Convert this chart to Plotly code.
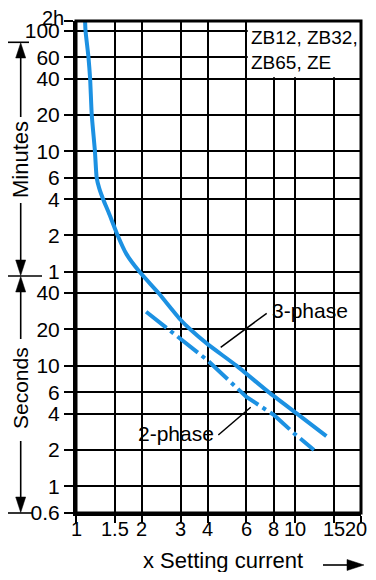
import math
import plotly.graph_objects as go

# ---------------- data ----------------
x_tick_vals = [1, 1.5, 2, 3, 4, 6, 8, 10, 15, 20]
x_tick_text = ["1", "1.5", "2", "3", "4", "6", "8", "10", "15", "20"]

# y values in seconds
y_tick_vals = [0.6, 1, 2, 4, 6, 10, 20, 40, 60, 120, 240, 360, 600, 1200, 2400, 3600, 6000, 7200]
y_tick_text = ["0.6", "1", "2", "4", "6", "10", "20", "40",
               "1", "2", "4", "6", "10", "20", "40", "60", "100", ""]
top_label = "2h"

three_phase_x = [1.10, 1.105, 1.14, 1.16, 1.18, 1.22, 1.243, 1.277, 1.33, 1.42, 1.55,
                 1.70, 1.95, 2.38, 3.0, 3.32, 4.0, 5.4, 7.6, 10.2, 13.9]
three_phase_t = [7200, 6000, 3600, 2400, 1200, 600, 360, 295, 240, 180, 120,
                 84, 60, 40, 24, 20, 15, 10, 6, 4, 2.6]

two_phase_x = [2.09, 3, 4, 6, 8, 10, 12.2]
two_phase_t = [28, 16.5, 11, 5.5, 3.9, 2.7, 2.0]

BLUE = "rgb(28,145,226)"
FONT = "Liberation Sans, Arial, sans-serif"

# the page keeps an 8px body margin on every side; reference plot area in page pixels
OFF = 8
L, R, T, B = 76, 361, 21, 513
W, H = R - L, B - T
FIG_W, FIG_H = 376 - 2 * OFF, 580 - 2 * OFF


def PX(x):
    return (x - L) / W


def PY(y):
    return (B - y) / H


fig = go.Figure()
fig.add_trace(go.Scatter(x=three_phase_x, y=three_phase_t, mode="lines",
                         line=dict(color=BLUE, width=4, shape="spline", smoothing=0.5),
                         hoverinfo="skip", showlegend=False))
fig.add_trace(go.Scatter(x=two_phase_x, y=two_phase_t, mode="lines",
                         line=dict(color=BLUE, width=4, dash="26px,5px,4px,5px"),
                         hoverinfo="skip", showlegend=False))

shapes = []
# white box behind type text (covers gridlines)
shapes.append(dict(type="rect", xref="x", yref="y", x0=6.08, x1=20, y0=2460, y1=7200,
                   fillcolor="white", line=dict(width=0), layer="above"))
# plot border
shapes.append(dict(type="rect", xref="paper", yref="paper", x0=0, x1=1, y0=0, y1=1,
                   line=dict(color="black", width=3), layer="above"))


def pline(x0, y0, x1, y1, w=1.6):
    shapes.append(dict(type="line", xref="paper", yref="paper",
                       x0=PX(x0), y0=PY(y0), x1=PX(x1), y1=PY(y1),
                       line=dict(color="black", width=w), layer="above"))


def tri(points):
    p = "M" + " L".join(f"{PX(a):.5f},{PY(b):.5f}" for a, b in points) + " Z"
    shapes.append(dict(type="path", xref="paper", yref="paper", path=p,
                       fillcolor="black", line=dict(color="black", width=0.5), layer="above"))


vx = 20.7
# bars
pline(8, 42.3, 29, 42.3)
pline(8, 276, 42, 276)
pline(8, 513, 32, 513)
# minutes arrow
tri([(vx, 42.8), (vx - 5, 58), (vx + 5, 58)])
pline(vx, 58, vx, 117)
pline(vx, 203, vx, 261)
tri([(vx, 275.5), (vx - 5, 260), (vx + 5, 260)])
# seconds arrow
tri([(vx, 276.5), (vx - 5, 292), (vx + 5, 292)])
pline(vx, 292, vx, 339)
pline(vx, 441, vx, 498)
tri([(vx, 512.5), (vx - 5, 497), (vx + 5, 497)])
# x axis title arrow
pline(323, 565, 349, 565)
tri([(364, 565), (347, 559.5), (347, 570.5)])
# leader lines
pline(220.7, 347.3, 266.7, 313.3, 1.5)
pline(218.3, 435, 250.7, 407.3, 1.5)

annotations = [
    dict(text=top_label, x=PX(66), y=PY(18.5), xanchor="right", font=dict(size=20)),
    dict(text="Minutes", x=PX(21), y=PY(160), textangle=-90, font=dict(size=22)),
    dict(text="Seconds", x=PX(21), y=PY(388), textangle=-90, font=dict(size=21)),
    dict(text="x Setting current", x=PX(223), y=PY(560), font=dict(size=22)),
    dict(text="3-phase", x=PX(310), y=PY(311), font=dict(size=21)),
    dict(text="2-phase", x=PX(176), y=PY(433), font=dict(size=21)),
    dict(text="ZB12, ZB32,<br>ZB65, ZE", x=PX(249), y=PY(50), xanchor="left",
         align="left", font=dict(size=19)),
]
for a in annotations:
    a.update(xref="paper", yref="paper")

# x tick labels placed on the log x axis at the tick values
for v, t in zip(x_tick_vals, x_tick_text):
    annotations.append(dict(text=t, xref="x", yref="paper", x=math.log10(v), y=PY(529),
                            xshift=-5 if v == x_tick_vals[-1] else 0,
                            font=dict(size=20)))

for a in annotations:
    a["showarrow"] = False
    a.setdefault("xanchor", "center")
    a.setdefault("yanchor", "middle")
    a["font"].update(family=FONT, color="black")

fig.update_layout(
    width=FIG_W, height=FIG_H,
    margin=dict(l=L - OFF, r=FIG_W - (R - OFF), t=T - OFF, b=FIG_H - (B - OFF)),
    paper_bgcolor="white", plot_bgcolor="white",
    font=dict(family=FONT, color="black"),
    shapes=shapes, annotations=annotations,
    xaxis=dict(type="log", range=[0, math.log10(20)],
               tickvals=x_tick_vals, showticklabels=False,
               showgrid=True, gridcolor="black", gridwidth=2,
               ticks="outside", ticklen=7, tickwidth=2, tickcolor="black",
               showline=True, linecolor="black", linewidth=3,
               zeroline=False, fixedrange=True),
    yaxis=dict(type="log", range=[math.log10(0.6), math.log10(7200)],
               tickvals=y_tick_vals, ticktext=y_tick_text,
               showgrid=True, gridcolor="black", gridwidth=2,
               ticks="outside", ticklen=9, tickwidth=2, tickcolor="black",
               showline=True, linecolor="black", linewidth=3,
               tickfont=dict(size=21, family=FONT, color="black"),
               zeroline=False, fixedrange=True),
)

fig.write_html("out.html")
